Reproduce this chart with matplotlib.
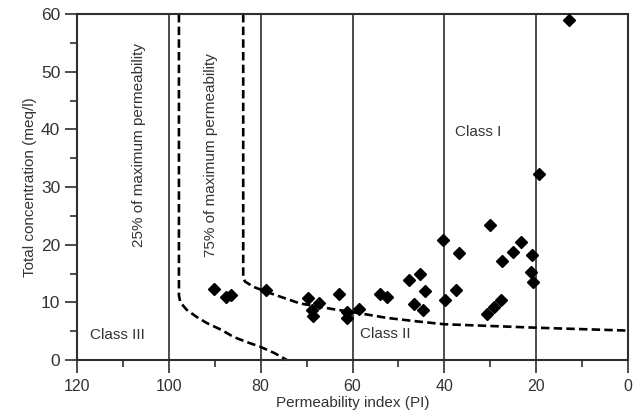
import matplotlib
matplotlib.use("Agg")
import matplotlib.pyplot as plt

plt.rcParams['font.family'] = ['Liberation Sans', 'DejaVu Sans']

# Data
pi_values = [90.2, 87.5, 86.5, 78.8, 69.7, 67.4, 68.9, 68.5, 63.0, 61.2, 61.2, 58.6,
             54.0, 52.4, 47.7, 45.3, 44.2, 46.7, 44.7, 40.2, 39.8, 36.7, 37.4,
             30.0, 27.4, 25.1, 23.4, 20.9, 21.1, 20.7, 30.7, 29.2, 27.6, 19.3, 12.8]
tc_values = [12.3, 11.0, 11.3, 12.1, 10.7, 9.8, 8.7, 7.7, 11.4, 8.4, 7.2, 8.8,
             11.4, 10.9, 13.8, 15.0, 12.0, 9.7, 8.7, 20.8, 10.4, 18.5, 12.1,
             23.4, 17.2, 18.8, 20.5, 18.2, 15.3, 13.6, 8.0, 9.2, 10.4, 32.3, 59.0]

# Boundary curves
c25_x = [97.8, 97.8, 97.5, 96.1, 94.0, 91.7, 88.5, 85.9, 83.0, 80.1, 77.0, 74.3]
c25_y = [60.0, 11.2, 10.0, 8.7, 7.5, 6.4, 5.2, 4.0, 3.1, 2.3, 1.2, 0.0]
c75_x = [83.8, 83.8, 83.4, 81.6, 78.7, 75.8, 71.4, 64.1, 60.0, 56.2, 52.5, 46.0, 40.0, 30.0, 20.0, 10.0, 0.0]
c75_y = [60.0, 14.2, 13.6, 12.7, 11.8, 11.0, 9.8, 8.8, 8.3, 7.8, 7.3, 6.7, 6.2, 5.9, 5.6, 5.35, 5.1]

grid_x = [100, 80, 60, 40, 20]
x_major = [120, 100, 80, 60, 40, 20, 0]
x_minor = [110, 90, 70, 50, 30, 10]
y_major = [0, 10, 20, 30, 40, 50, 60]
y_minor = [5, 15, 25, 35, 45, 55]

dark = '#2e2e2e'
txt = '#333333'

fig = plt.figure(figsize=(6.43, 4.17), dpi=100)
ax = fig.add_axes([77/643, 1-360/417, (628-77)/643, (360-14)/417])

for gx in grid_x:
    ax.axvline(gx, color=dark, lw=1.2, zorder=1)

ax.plot(c25_x, c25_y, color='black', lw=1.9, dashes=(3.2, 1.6), zorder=2, clip_on=False)
ax.plot(c75_x, c75_y, color='black', lw=1.9, dashes=(3.2, 1.6), zorder=2, clip_on=False)

ax.plot(pi_values, tc_values, linestyle='none', marker='D', markersize=6.2,
        color='black', zorder=3, clip_on=False)

ax.set_xlim(120, 0)
ax.set_ylim(0, 60)
ax.set_xticks(x_major)
ax.set_xticks(x_minor, minor=True)
ax.set_yticks(y_major)
ax.set_yticks(y_minor, minor=True)

ax.tick_params(axis='both', which='major', length=9, width=1.2, color=dark,
               labelsize=11.5, labelcolor=txt, direction='out')
ax.tick_params(axis='both', which='minor', length=5, width=1.2, color=dark,
               direction='out')
ax.tick_params(axis='x', which='major', pad=5)
ax.tick_params(axis='y', which='major', pad=3, labelsize=12.5)

for s in ax.spines.values():
    s.set_color(dark)
    s.set_linewidth(1.5)

ax.set_xlabel('Permeability index (PI)', fontsize=11, color=txt, labelpad=1)
ax.set_ylabel('Total concentration (meq/l)', fontsize=11, color=txt, labelpad=3)

ax.text(111.2, 4.3, 'Class III', fontsize=11, color=txt, ha='center', va='center')
ax.text(52.9, 4.5, 'Class II', fontsize=11, color=txt, ha='center', va='center')
ax.text(32.6, 39.6, 'Class I', fontsize=11, color=txt, ha='center', va='center')
ax.text(106.5, 37.2, '25% of maximum permeability', fontsize=11, color=txt,
        rotation=90, ha='center', va='center')
ax.text(90.8, 35.5, '75% of maximum permeability', fontsize=11, color=txt,
        rotation=90, ha='center', va='center')

fig.savefig('out.png', dpi=100, facecolor='white')
